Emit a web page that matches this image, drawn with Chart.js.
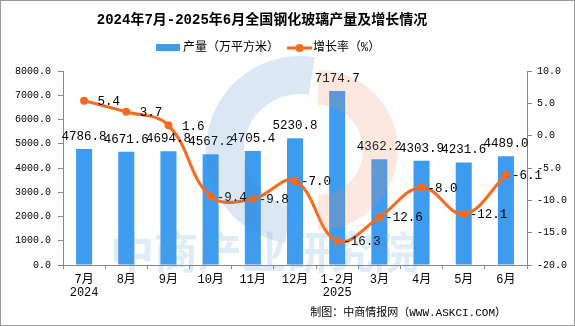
<!DOCTYPE html>
<html>
<head>
<meta charset="utf-8">
<script src="https://cdn.jsdelivr.net/npm/chart.js@4"></script>
<style>
  body { margin: 0; background: #fff; }
  #wrap { width: 575px; height: 326px; }
</style>
</head>
<body>
<div id="wrap"><canvas id="myChart" width="575" height="326"></canvas></div>
<script>
var months = [["7月", "2024"], "8月", "9月", "10月", "11月", "12月", ["1-2月", "2025"], "3月", "4月", "5月", "6月"];
var output = [4786.8, 4671.6, 4694.8, 4567.2, 4705.4, 5230.8, 7174.7, 4362.2, 4303.9, 4231.6, 4489.0];
var growth = [5.4, 3.7, 1.6, -9.4, -9.8, -7.0, -16.3, -12.6, -8.0, -12.1, -6.1];

var titleText = "2024年7月-2025年6月全国钢化玻璃产量及增长情况";
var legendBar = "产量（万平方米）";
var legendLine = "增长率（%）";
var sourceText = "制图：中商情报网（WWW.ASKCI.COM）";

var barColor = "#3d9cf0";
var lineColor = "#fa6a1e";
var monoFont = "'Liberation Mono', 'Noto Sans CJK SC', monospace";

// title, legend, labels, watermark, frame
var decor = {
    id: "decor",
    afterDatasetsDraw: function (chart) {
        var c = chart.ctx;
        c.save();
        c.fillStyle = "#000";
        c.font = "12.5px " + monoFont;
        c.textAlign = "center";
        c.textBaseline = "bottom";
        var bars = chart.getDatasetMeta(0).data;
        bars.forEach(function (b, i) {
            c.fillText(output[i].toFixed(1), b.x, b.y - 6);
        });
        c.textAlign = "left";
        c.textBaseline = "middle";
        var pts = chart.getDatasetMeta(1).data;
        var dash = c.measureText("-").width;
        pts.forEach(function (p, i) {
            var off = growth[i] < 0 ? 6 : 6 + dash;
            c.fillText(growth[i].toFixed(1), p.x + off, p.y + 1);
        });
        c.restore();
    },
    afterDraw: function (chart) {
        var c = chart.ctx;
        c.save();
        // watermark
        c.globalAlpha = 0.2;
        c.lineWidth = 38;
        c.strokeStyle = "#4a8cc4";
        c.beginPath();
        c.arc(300, 150, 75, -0.45 * Math.PI, 0.55 * Math.PI, true);
        c.stroke();
        c.fillStyle = "#f08a60";
        c.beginPath();
        c.moveTo(318, 70);
        c.arc(318, 150, 80, -0.5 * Math.PI, 0.5 * Math.PI, false);
        c.lineTo(318, 195);
        c.arc(318, 150, 45, 0.5 * Math.PI, -0.5 * Math.PI, true);
        c.closePath();
        c.fill();
        c.fillStyle = "#5a9fd6";
        c.font = "bold 44px 'Noto Sans CJK SC'";
        c.textAlign = "left";
        c.textBaseline = "middle";
        c.fillText("中商产业研究院", 110, 252);
        c.globalAlpha = 1;

        // title
        c.fillStyle = "#000";
        c.font = "bold 14px " + monoFont;
        c.textAlign = "center";
        c.textBaseline = "middle";
        c.fillText(titleText, 262, 20);

        // legend
        c.font = "12px " + monoFont;
        c.textAlign = "left";
        c.fillStyle = barColor;
        c.fillRect(156, 44, 24, 7);
        c.fillStyle = "#000";
        c.fillText(legendBar, 183, 48);
        c.strokeStyle = lineColor;
        c.lineWidth = 3;
        c.beginPath();
        c.moveTo(287, 48);
        c.lineTo(312, 48);
        c.stroke();
        c.fillStyle = lineColor;
        c.beginPath();
        c.arc(299.5, 48, 4, 0, Math.PI * 2);
        c.fill();
        c.fillStyle = "#000";
        c.fillText(legendLine, 313, 48);

        // source
        c.font = "11px " + monoFont;
        c.textAlign = "right";
        c.fillText(sourceText, 506, 313);

        // frame
        c.strokeStyle = "#9a9a9a";
        c.lineWidth = 1;
        c.strokeRect(0.5, 0.5, 574, 325);
        c.restore();
    }
};

var ctx = document.getElementById("myChart");

var data = {
    labels: months,
    datasets: [
        {
            type: "bar",
            label: legendBar,
            data: output,
            backgroundColor: barColor,
            barPercentage: 0.38,
            categoryPercentage: 1,
            yAxisID: "y",
            order: 2
        },
        {
            type: "line",
            label: legendLine,
            data: growth,
            borderColor: lineColor,
            backgroundColor: lineColor,
            borderWidth: 3,
            pointRadius: 4,
            pointBackgroundColor: lineColor,
            pointBorderWidth: 0,
            tension: 0.4,
            yAxisID: "y1",
            order: 1
        }
    ]
};

var myChart = new Chart(ctx, {
    type: "bar",
    data: data,
    plugins: [decor],
    options: {
        responsive: false,
        animation: false,
        layout: { padding: { top: 71, left: 0, right: 0, bottom: 0 } },
        plugins: {
            legend: { display: false },
            tooltip: { enabled: false }
        },
        scales: {
            x: {
                offset: true,
                grid: {
                    display: true,
                    offset: true,
                    drawOnChartArea: false,
                    drawTicks: true,
                    tickLength: 4,
                    color: "#888"
                },
                border: { color: "#888", width: 1 },
                ticks: {
                    color: "#000",
                    font: { size: 12, family: monoFont, lineHeight: 1.1 },
                    padding: 4,
                    maxRotation: 0,
                    autoSkip: false
                },
                afterFit: function (s) { s.height = 61; }
            },
            y: {
                position: "left",
                min: 0,
                max: 8000,
                grid: {
                    drawOnChartArea: false,
                    drawTicks: true,
                    tickLength: 5,
                    color: "#888"
                },
                border: { color: "#888", width: 1 },
                ticks: {
                    stepSize: 1000,
                    color: "#000",
                    padding: 7,
                    font: { size: 10, family: monoFont },
                    callback: function (v) { return v.toFixed(1); }
                },
                afterFit: function (s) { s.width = 63; }
            },
            y1: {
                position: "right",
                min: -20,
                max: 10,
                grid: {
                    drawOnChartArea: false,
                    drawTicks: true,
                    tickLength: 5,
                    color: "#888"
                },
                border: { color: "#888", width: 1 },
                ticks: {
                    stepSize: 5,
                    color: "#000",
                    padding: 5,
                    font: { size: 10, family: monoFont },
                    callback: function (v) { return v.toFixed(1); }
                },
                afterFit: function (s) { s.width = 48; }
            }
        }
    }
});
</script>
</body>
</html>
